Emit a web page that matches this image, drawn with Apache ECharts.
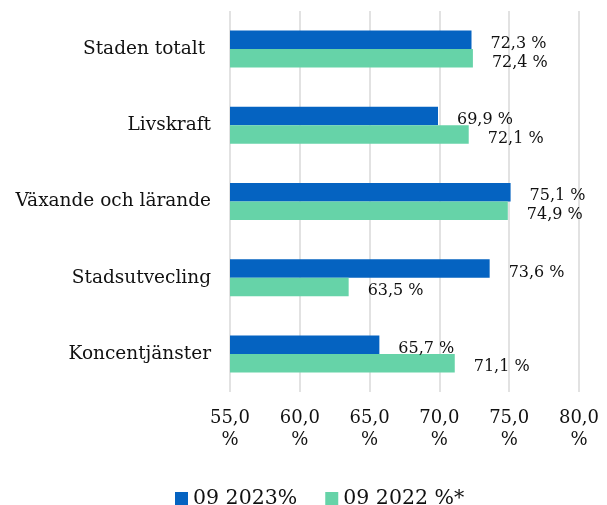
<!DOCTYPE html>
<html><head><meta charset="utf-8">
<script src="https://cdn.jsdelivr.net/npm/echarts@6/dist/echarts.min.js"></script>
<style>html,body{margin:0;padding:0;background:#fff}#c{width:607px;height:505px}</style>
</head><body><div id="c"></div>
<script>
const categories = ['Staden totalt ', 'Livskraft', 'Växande och lärande', 'Stadsutvecling', 'Koncentjänster'];
const series2023 = [72.3, 69.9, 75.1, 73.6, 65.7];
const series2022 = [72.4, 72.1, 74.9, 63.5, 71.1];
const seriesNames = ['09 2023%', '09 2022 %*'];
const xTicks = { min: 55, max: 80, interval: 5 };

const FONT = 'DejaVu Serif';
const fmt = v => v.toFixed(1).replace('.', ',');
const chart = echarts.init(document.getElementById('c'), null, { renderer: 'canvas' });
const lbl = {
  show: true, position: 'right', distance: 19, offset: [0, 4],
  formatter: p => fmt(p.value) + ' %',
  fontFamily: FONT, fontSize: 16, color: '#111'
};
chart.setOption({
  animation: false,
  grid: { left: 230, right: 28, top: 11, bottom: 113, containLabel: false },
  xAxis: {
    type: 'value', min: xTicks.min, max: xTicks.max, interval: xTicks.interval,
    axisLine: { show: false }, axisTick: { show: false },
    splitLine: { show: true, lineStyle: { color: '#d9d9d9', width: 1.5 } },
    axisLabel: {
      formatter: v => fmt(v) + '\n%', fontFamily: FONT, fontSize: 18,
      color: '#111', lineHeight: 22, margin: 15
    }
  },
  yAxis: {
    type: 'category', data: categories, inverse: true,
    axisLine: { show: false }, axisTick: { show: false },
    axisLabel: { fontFamily: FONT, fontSize: 18.5, color: '#111', margin: 19, padding: [5, 0, 0, 0] }
  },
  legend: {
    top: 483, left: 170, icon: 'rect', itemWidth: 13, itemHeight: 13, itemGap: 28, itemTextGap: 5,
    textStyle: { fontFamily: FONT, fontSize: 20.5, color: '#111' },
    data: seriesNames
  },
  series: [
    { name: seriesNames[0], type: 'bar', data: series2023, barWidth: 18.5, barGap: '0%',
      itemStyle: { color: '#0563C1' }, label: lbl },
    { name: seriesNames[1], type: 'bar', data: series2022, barWidth: 18.5, barGap: '0%',
      itemStyle: { color: '#66D3A8' }, label: lbl }
  ]
});
</script></body></html>
